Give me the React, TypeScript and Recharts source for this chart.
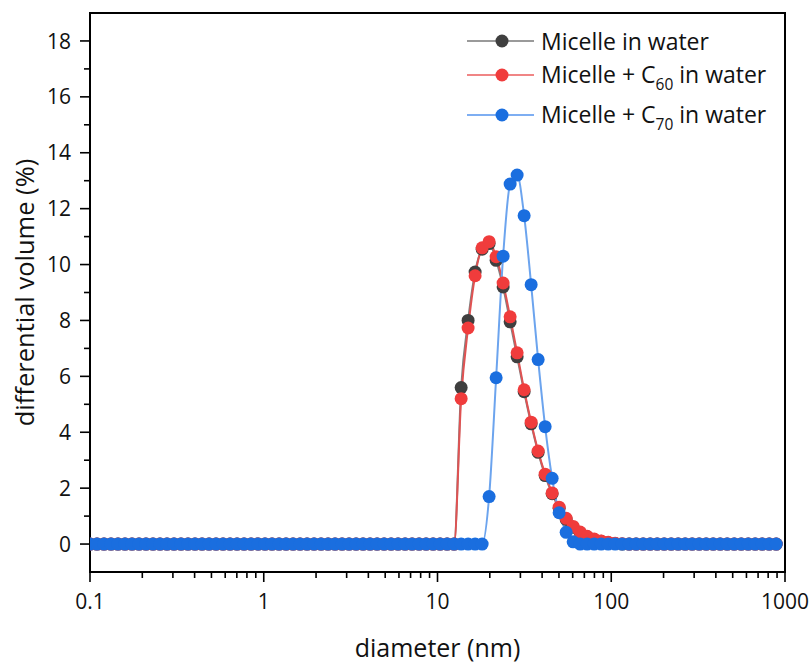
import React from "react";
import { LineChart, Line, XAxis, YAxis, ReferenceArea, Legend } from "recharts";

// size bins (nm), log spaced
const DIAMETER_NM = [
  0.1, 0.1097, 0.1204, 0.1321, 0.1449, 0.159, 0.1745, 0.1915, 0.2101, 0.2305,
  0.2529, 0.2775, 0.3045, 0.3341, 0.3666, 0.4022, 0.4414, 0.4843, 0.5314, 0.583,
  0.6397, 0.7019, 0.7702, 0.8451, 0.9273, 1.017, 1.116, 1.225, 1.344, 1.475,
  1.618, 1.775, 1.948, 2.138, 2.345, 2.573, 2.824, 3.098, 3.4, 3.73,
  4.093, 4.491, 4.928, 5.407, 5.932, 6.509, 7.142, 7.837, 8.599, 9.435,
  10.35, 11.36, 12.46, 13.68, 15.0, 16.46, 18.07, 19.82, 21.75, 23.86,
  26.18, 28.73, 31.52, 34.59, 37.95, 41.64, 45.69, 50.13, 55.01, 60.36,
  66.23, 72.67, 79.74, 87.49, 96.0, 105.3, 115.6, 126.8, 139.1, 152.7,
  167.5, 183.8, 201.7, 221.3, 242.8, 266.4, 292.3, 320.8, 352.0, 386.2,
  423.7, 464.9, 510.2, 559.8, 614.2, 673.9, 739.4, 811.3, 890.2,
];

const MICELLE_WATER = [
  0, 0, 0, 0, 0, 0, 0, 0, 0, 0,
  0, 0, 0, 0, 0, 0, 0, 0, 0, 0,
  0, 0, 0, 0, 0, 0, 0, 0, 0, 0,
  0, 0, 0, 0, 0, 0, 0, 0, 0, 0,
  0, 0, 0, 0, 0, 0, 0, 0, 0, 0,
  0, 0, 0, 5.6, 8.0, 9.73, 10.55, 10.75, 10.15, 9.2,
  7.95, 6.7, 5.45, 4.3, 3.28, 2.45, 1.8, 1.28, 0.88, 0.6,
  0.4, 0.26, 0.16, 0.1, 0.05, 0.02, 0, 0, 0, 0,
  0, 0, 0, 0, 0, 0, 0, 0, 0, 0,
  0, 0, 0, 0, 0, 0, 0, 0, 0,
];

const MICELLE_C60 = [
  0, 0, 0, 0, 0, 0, 0, 0, 0, 0,
  0, 0, 0, 0, 0, 0, 0, 0, 0, 0,
  0, 0, 0, 0, 0, 0, 0, 0, 0, 0,
  0, 0, 0, 0, 0, 0, 0, 0, 0, 0,
  0, 0, 0, 0, 0, 0, 0, 0, 0, 0,
  0, 0, 0, 5.2, 7.73, 9.6, 10.6, 10.82, 10.28, 9.34,
  8.13, 6.84, 5.52, 4.36, 3.33, 2.5, 1.83, 1.32, 0.92, 0.63,
  0.43, 0.28, 0.18, 0.11, 0.06, 0.03, 0.01, 0, 0, 0,
  0, 0, 0, 0, 0, 0, 0, 0, 0, 0,
  0, 0, 0, 0, 0, 0, 0, 0, 0,
];

const MICELLE_C70 = [
  0, 0, 0, 0, 0, 0, 0, 0, 0, 0,
  0, 0, 0, 0, 0, 0, 0, 0, 0, 0,
  0, 0, 0, 0, 0, 0, 0, 0, 0, 0,
  0, 0, 0, 0, 0, 0, 0, 0, 0, 0,
  0, 0, 0, 0, 0, 0, 0, 0, 0, 0,
  0, 0, 0, 0, 0, 0, 0, 1.7, 5.95, 10.3,
  12.88, 13.2, 11.75, 9.28, 6.6, 4.2, 2.35, 1.12, 0.42, 0.08,
  0, 0, 0, 0, 0, 0, 0, 0, 0, 0,
  0, 0, 0, 0, 0, 0, 0, 0, 0, 0,
  0, 0, 0, 0, 0, 0, 0, 0, 0,
];

const X_TICKS = [
  0.1, 0.2, 0.3, 0.4, 0.5, 0.6, 0.7, 0.8, 0.9,
  1, 2, 3, 4, 5, 6, 7, 8, 9,
  10, 20, 30, 40, 50, 60, 70, 80, 90,
  100, 200, 300, 400, 500, 600, 700, 800, 900, 1000,
];
const X_LABELED = [0.1, 1, 10, 100, 1000];
const Y_TICKS = [0, 1, 2, 3, 4, 5, 6, 7, 8, 9, 10, 11, 12, 13, 14, 15, 16, 17, 18];
const Y_LABELED = [0, 2, 4, 6, 8, 10, 12, 14, 16, 18];

const SERIES = [
  { key: "water", name: "Micelle in water", sub: "", tail: "", line: "#808080", legendLine: "#9a9a9a", dot: "#3f3f3f" },
  { key: "c60", name: "Micelle + C", sub: "60", tail: " in water", line: "#e05252", legendLine: "#f08585", dot: "#f03c3c" },
  { key: "c70", name: "Micelle + C", sub: "70", tail: " in water", line: "#6ca4ee", legendLine: "#7eaef2", dot: "#1a6edf" },
];

const rows = DIAMETER_NM.map((d, i) => ({
  d,
  water: MICELLE_WATER[i],
  c60: MICELLE_C60[i],
  c70: MICELLE_C70[i],
}));

const FONT = "'Open Sans', 'Noto Sans', sans-serif";

function XTick({ x, y, payload }: any) {
  const major = X_LABELED.includes(payload.value);
  return (
    <g>
      <line x1={x} x2={x} y1={y} y2={y + (major ? 10 : 6)} stroke="#000" strokeWidth={1.6} />
      {major && (
        <text x={x} y={y + 37} textAnchor="middle" fontSize={21} fill="#111">
          {String(payload.value)}
        </text>
      )}
    </g>
  );
}

function YTick({ x, y, payload }: any) {
  const major = Y_LABELED.includes(payload.value);
  return (
    <g>
      <line x1={x - (major ? 10 : 6)} x2={x} y1={y} y2={y} stroke="#000" strokeWidth={1.6} />
      {major && (
        <text x={x - 19} y={y} dy="0.36em" textAnchor="end" fontSize={21} fill="#111">
          {String(payload.value)}
        </text>
      )}
    </g>
  );
}

const LEGEND_ROW_Y = [41, 75, 115];

function LegendBox() {
  return (
    <div style={{ position: "relative", width: 812, height: 140, fontFamily: FONT }}>
      {SERIES.map((s, i) => (
        <div
          key={s.key}
          style={{
            position: "absolute",
            left: 467,
            top: LEGEND_ROW_Y[i] - 16,
            height: 32,
            display: "flex",
            alignItems: "center",
            whiteSpace: "nowrap",
          }}
        >
          <svg width={67} height={32} style={{ display: "block" }}>
            <line x1={0} x2={67} y1={16} y2={16} stroke={s.legendLine} strokeWidth={2} />
            <circle cx={35} cy={16} r={6.5} fill={s.dot} />
          </svg>
          <span style={{ marginLeft: 7, fontSize: 23, color: "#111", lineHeight: "32px" }}>
            {s.name}
            {s.sub && (
              <span style={{ fontSize: 15.5, position: "relative", top: 7 }}>{s.sub}</span>
            )}
            {s.tail}
          </span>
        </div>
      ))}
    </div>
  );
}

export default function App() {
  return (
    <div style={{ position: "absolute", left: 0, top: 0, width: 812, height: 666, background: "#fff", fontFamily: FONT }}>
      <LineChart width={812} height={666} data={rows} margin={{ top: 13, right: 27, left: 0, bottom: 0 }}>
        <XAxis
          dataKey="d"
          type="number"
          scale="log"
          domain={[0.1, 1000]}
          allowDataOverflow
          ticks={X_TICKS}
          interval={0}
          tick={<XTick />}
          tickLine={false}
          tickSize={0}
          tickMargin={0}
          height={94}
          axisLine={{ stroke: "#000", strokeWidth: 2 }}
          label={{ value: "diameter (nm)", position: "insideBottom", offset: 9, fontSize: 25, fill: "#111" }}
        />
        <YAxis
          type="number"
          domain={[-1, 19]}
          allowDataOverflow
          ticks={Y_TICKS}
          interval={0}
          tick={<YTick />}
          tickLine={false}
          tickSize={0}
          tickMargin={0}
          width={90}
          axisLine={{ stroke: "#000", strokeWidth: 2 }}
          label={{
            value: "differential volume (%)",
            angle: -90,
            position: "insideLeft",
            offset: 25,
            fontSize: 25.5,
            fill: "#111",
            style: { textAnchor: "middle" },
          }}
        />
        <ReferenceArea x1={0.1} x2={1000} y1={-1} y2={19} fill="#fff" fillOpacity={0} stroke="#000" strokeWidth={2} />
        {SERIES.map((s) => (
          <Line
            key={s.key}
            dataKey={s.key}
            name={s.name + s.sub + s.tail}
            type="monotone"
            stroke={s.line}
            strokeWidth={2}
            dot={{ r: 6.5, fill: s.dot, stroke: s.dot, strokeWidth: 0 }}
            activeDot={false}
            isAnimationActive={false}
          />
        ))}
        <Legend
          layout="vertical"
          align="center"
          verticalAlign="middle"
          wrapperStyle={{ top: 0, left: 0, width: 812, height: 140 }}
          content={() => <LegendBox />}
        />
      </LineChart>
    </div>
  );
}
